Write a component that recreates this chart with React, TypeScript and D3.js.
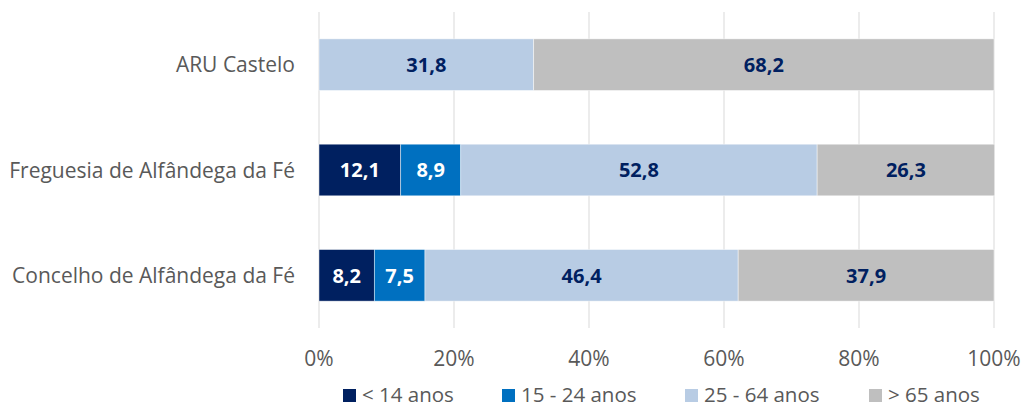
import React from "react";
import * as d3 from "d3";

const categories = ["ARU Castelo", "Freguesia de Alfândega da Fé", "Concelho de Alfândega da Fé"];
const seriesNames = ["< 14 anos", "15 - 24 anos", "25 - 64 anos", "> 65 anos"];
const under14 = [0, 12.1, 8.2];
const from15to24 = [0, 8.9, 7.5];
const from25to64 = [31.8, 52.8, 46.4];
const over65 = [68.2, 26.3, 37.9];
const xTicks = [0, 20, 40, 60, 80, 100];

const colors = ["#002060", "#0070C0", "#B8CCE4", "#BFBFBF"];
const labelColors = ["#FFFFFF", "#FFFFFF", "#002060", "#002060"];

const W = 1024;
const H = 407;
const FONT = "'Open Sans', Lato, sans-serif";

export default function App() {
  const x = d3.scaleLinear().domain([0, 100]).range([319, 994]);
  const y = d3.scaleBand<string>().domain(categories).range([12, 328]).paddingInner(0.51).paddingOuter(0.255);

  const series = [under14, from15to24, from25to64, over65];
  const rows = categories.map((c, i) => {
    const obj: any = { cat: c };
    seriesNames.forEach((s, j) => (obj[s] = series[j][i]));
    return obj;
  });
  const stacked = d3.stack<any>().keys(seriesNames)(rows);

  const fmt = (v: number) => v.toFixed(1).replace(".", ",");

  const legendX = [343, 502, 685, 869];

  return (
    <svg width={W} height={H} style={{ position: "absolute", left: 0, top: 0 }} fontFamily={FONT}>
      {xTicks.map((t) => (
        <line key={t} x1={x(t)} x2={x(t)} y1={12} y2={328} stroke="#D9D9D9" strokeWidth={1} />
      ))}
      {stacked.map((layer, j) =>
        layer.map((d, i) => {
          const v = d[1] - d[0];
          if (v <= 0) return null;
          const x0 = x(d[0]);
          const x1 = x(d[1]);
          const yy = y(categories[i])!;
          return (
            <g key={`${j}-${i}`}>
              <rect x={x0} y={yy} width={x1 - x0} height={y.bandwidth()} fill={colors[j]} stroke="#FFFFFF" strokeOpacity={0.6} strokeWidth={0.75} />
              <text
                x={(x0 + x1) / 2}
                y={yy + y.bandwidth() / 2}
                dy="0.36em"
                textAnchor="middle"
                fontSize={20}
                fontWeight="bold"
                fill={labelColors[j]}
              >
                {fmt(v)}
              </text>
            </g>
          );
        })
      )}
      {categories.map((c) => (
        <text key={c} x={295} y={y(c)! + y.bandwidth() / 2} dy="0.36em" textAnchor="end" fontSize={21} fill="#595959">
          {c}
        </text>
      ))}
      {xTicks.map((t) => (
        <text key={t} x={x(t)} y={366} textAnchor="middle" fontSize={21} fill="#595959">
          {t}%
        </text>
      ))}
      {seriesNames.map((s, j) => (
        <g key={s}>
          <rect x={legendX[j]} y={389} width={13} height={13} fill={colors[j]} />
          <text x={legendX[j] + 19} y={401.5} fontSize={20.5} fill="#595959">
            {s}
          </text>
        </g>
      ))}
    </svg>
  );
}
